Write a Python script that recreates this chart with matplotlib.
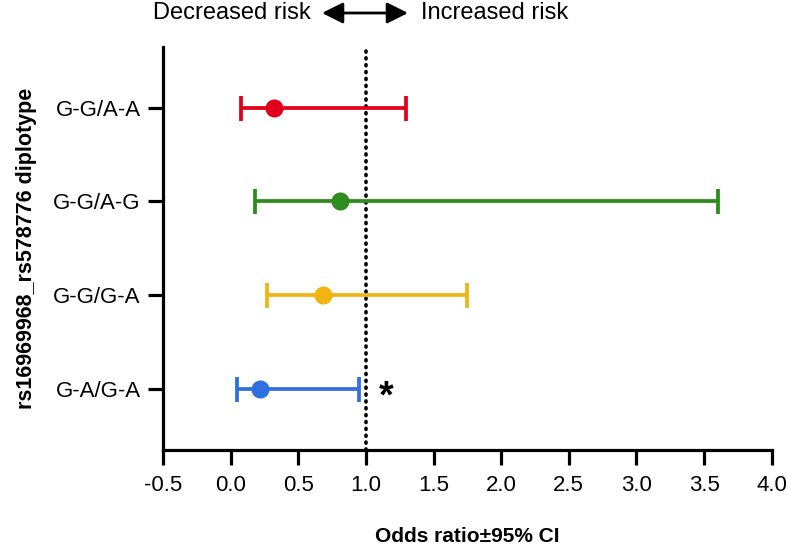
import matplotlib
matplotlib.use("Agg")
import matplotlib.pyplot as plt

plt.rcParams['font.family'] = ['Liberation Sans', 'DejaVu Sans']

categories = ["G-A/G-A", "G-G/G-A", "G-G/A-G", "G-G/A-A"]
odds_ratio = [0.22, 0.68, 0.81, 0.32]
ci_low = [0.05, 0.27, 0.18, 0.08]
ci_high = [0.95, 1.75, 3.60, 1.30]
colors = ["#2F6FE0", "#F2B411", "#2E8B1E", "#E2001A"]
xticks = [-0.5, 0.0, 0.5, 1.0, 1.5, 2.0, 2.5, 3.0, 3.5, 4.0]
significant = ["G-A/G-A"]

W, H = 787, 546
fig = plt.figure(figsize=(W / 100, H / 100), dpi=100)
ax = fig.add_axes([163 / W, 1 - 450 / H, (771.7 - 163) / W, (450 - 46.7) / H])

ypos = list(range(len(categories)))
for y, cat, o, lo, hi, c in zip(ypos, categories, odds_ratio, ci_low, ci_high, colors):
    ax.errorbar([o], [y], xerr=[[o - lo], [hi - o]], fmt='o', color=c, ecolor=c,
                elinewidth=2.7, capsize=9, capthick=2.7, markersize=12, zorder=3)
    if cat in significant:
        ax.text(1.15, y - 0.09, "*", fontsize=27, fontweight='bold', ha='center', va='center')

ax.axvline(1.0, color='black', linestyle=(0, (0.3, 1.6)), linewidth=2.6, zorder=2,
           dash_capstyle='round')

ax.set_xlim(-0.5, 4.0)
ax.set_ylim(-0.65, 3.65)
ax.set_xticks(xticks)
ax.set_xticklabels([f"{t:.1f}" for t in xticks])
ax.set_yticks(ypos)
ax.set_yticklabels(categories)

for s in ['top', 'right']:
    ax.spines[s].set_visible(False)
for s in ['left', 'bottom']:
    ax.spines[s].set_linewidth(2.3)
ax.tick_params(axis='both', width=2.3, length=11, labelsize=16)
ax.tick_params(axis='x', pad=7)
ax.tick_params(axis='y', pad=5)

ax.set_xlabel("Odds ratio±95% CI", fontsize=15, fontweight='bold', labelpad=22)
ax.set_ylabel("rs16969968_rs578776 diplotype", fontsize=15.5, fontweight='bold', labelpad=12)

# top annotation
fig.text(311 / W, 1 - 13 / H, "Decreased risk", ha='right', va='center', fontsize=17)
fig.text(421 / W, 1 - 13 / H, "Increased risk", ha='left', va='center', fontsize=17)
ax.annotate('', xy=(408, H - 13), xytext=(322, H - 13), xycoords='figure pixels',
            textcoords='figure pixels',
            arrowprops=dict(arrowstyle='<|-|>,head_length=0.8,head_width=0.4',
                            lw=2.0, color='black', mutation_scale=16,
                            shrinkA=0, shrinkB=0))

fig.savefig("out.png", dpi=100)
